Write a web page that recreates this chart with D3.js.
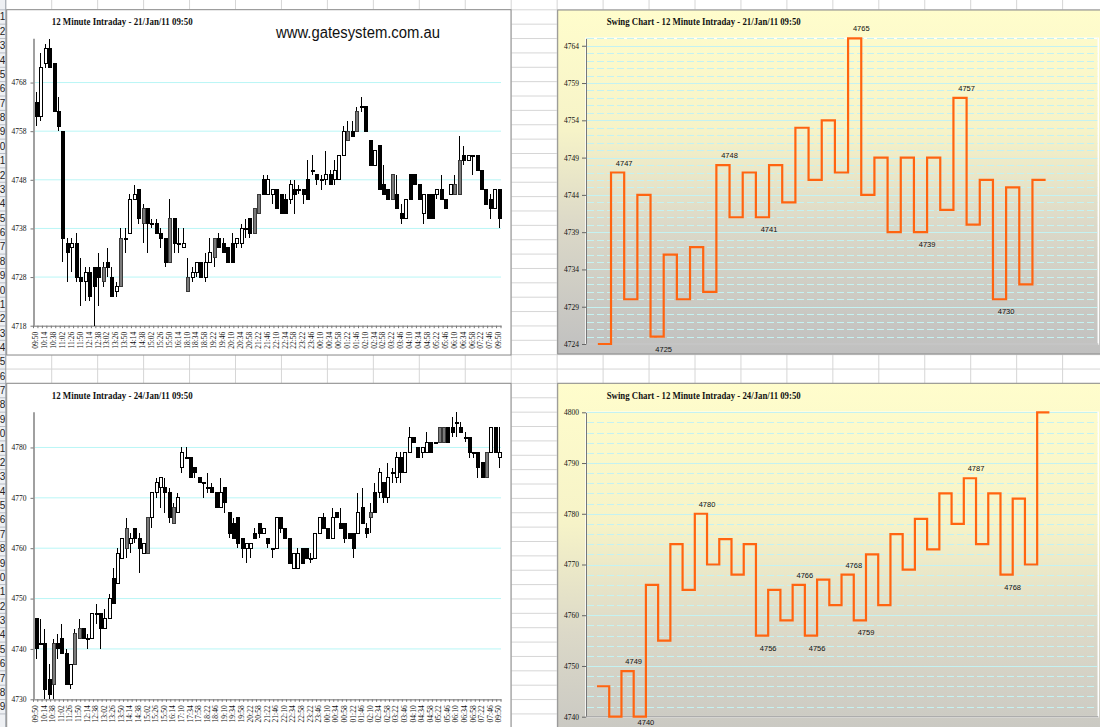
<!DOCTYPE html>
<html><head><meta charset="utf-8">
<script src="https://cdn.jsdelivr.net/npm/d3@7"></script>
<style>body{margin:0;background:#fff;overflow:hidden}svg{display:block}</style>
</head><body>
<svg id="c" width="1100" height="727"></svg>
<script>
// ---------------- DATA ----------------
const day1Title = "12 Minute Intraday - 21/Jan/11 09:50";
const day2Title = "12 Minute Intraday - 24/Jan/11 09:50";
const swing1Title = "Swing Chart - 12 Minute Intraday - 21/Jan/11 09:50";
const swing2Title = "Swing Chart - 12 Minute Intraday - 24/Jan/11 09:50";
const siteText = "www.gatesystem.com.au";

const day1Labels = ["09:50","10:14","10:38","11:02","11:26","11:50","12:14","12:38","13:02","13:26","13:50","14:14","14:38","15:02","15:26","15:50","16:14","18:10","18:34","18:58","19:22","19:46","20:10","20:34","20:58","21:22","21:46","22:10","22:34","22:58","23:22","23:46","00:10","00:34","00:58","01:22","01:46","02:10","02:34","02:58","03:22","03:46","04:10","04:34","04:58","05:22","05:46","06:10","06:34","06:58","07:22","07:46","09:50"];
const day2Labels = ["09:50","10:14","10:38","11:02","11:26","11:50","12:14","12:38","13:02","13:26","13:50","14:14","14:38","15:02","15:26","15:50","16:14","17:10","17:34","17:58","18:22","18:46","19:10","19:34","19:58","20:22","20:58","21:22","21:46","22:10","22:34","22:58","23:22","23:46","00:10","00:34","00:58","01:22","01:46","02:10","02:34","02:58","03:22","03:46","04:10","04:34","04:58","05:22","05:46","06:10","06:34","06:58","07:22","07:46","09:50"];

const day1Ticks = [4718,4728,4738,4748,4758,4768];
const day2Ticks = [4730,4740,4750,4760,4770,4780];

// [open, high, low, close, kind]  kind: w = hollow, b = black, g = grey
const day1Candles = [
[4764,4766,4759,4761,"b"],[4761,4774,4760,4771,"w"],[4772,4776,4771,4775,"w"],[4775,4777,4771,4771,"b"],[4772,4772,4762,4762,"b"],
[4762,4765,4758,4759,"b"],[4758,4758,4731,4736,"b"],[4735,4736,4727,4733,"b"],[4734,4736,4729,4735,"w"],[4735,4737,4727,4728,"b"],
[4728,4732,4722,4727,"b"],[4727,4730,4723,4729,"w"],[4729,4730,4723,4724,"b"],[4730,4730,4718,4726,"b"],[4730,4733,4722,4728,"b"],
[4727,4731,4726,4730,"g"],[4731,4734,4728,4730,"b"],[4728,4730,4724,4724,"b"],[4725,4727,4724,4726,"w"],[4726,4738,4726,4736,"g"],
[4736,4738,4733,4736,"w"],[4737,4745,4737,4744,"w"],[4744,4747,4744,4745,"w"],[4746,4746,4739,4740,"b"],[4739,4743,4735,4742,"g"],
[4742,4742,4733,4739,"b"],[4739,4740,4738,4739,"b"],[4739,4740,4737,4737,"b"],[4737,4738,4734,4736,"b"],[4736,4736,4730,4731,"b"],
[4731,4744,4731,4740,"g"],[4740,4740,4733,4735,"b"],[4735,4738,4733,4735,"b"],[4734,4738,4734,4735,"w"],[4725,4732,4725,4728,"g"],
[4728,4730,4727,4729,"w"],[4729,4731,4728,4731,"w"],[4731,4731,4728,4728,"b"],[4728,4733,4727,4731,"w"],[4731,4736,4731,4733,"w"],
[4732,4736,4730,4736,"g"],[4736,4737,4734,4734,"b"],[4735,4736,4733,4733,"b"],[4734,4734,4731,4731,"b"],[4735,4737,4731,4731,"b"],
[4735,4736,4734,4736,"w"],[4735,4739,4734,4738,"w"],[4738,4740,4736,4738,"b"],[4740,4740,4736,4737,"b"],[4737,4742,4737,4742,"g"],
[4741,4745,4741,4745,"g"],[4748,4749,4745,4745,"b"],[4745,4749,4745,4748,"w"],[4745,4746,4743,4746,"w"],[4746,4746,4742,4742,"b"],
[4745,4745,4741,4741,"b"],[4744,4745,4741,4741,"b"],[4744,4748,4743,4747,"w"],[4746,4748,4741,4745,"b"],[4746,4747,4745,4746,"b"],
[4746,4746,4743,4745,"b"],[4748,4752,4744,4744,"b"],[4750,4753,4749,4750,"b"],[4749,4749,4747,4748,"b"],[4748,4749,4746,4748,"b"],
[4748,4754,4747,4749,"w"],[4749,4750,4747,4747,"b"],[4748,4752,4747,4750,"w"],[4748,4753,4748,4753,"w"],[4753,4759,4753,4758,"w"],
[4756,4760,4756,4758,"g"],[4758,4760,4757,4757,"b"],[4758,4763,4758,4762,"g"],[4763,4765,4762,4763,"b"],[4763,4763,4758,4758,"b"],
[4756,4756,4751,4751,"b"],[4751,4754,4751,4754,"w"],[4755,4755,4746,4746,"b"],[4747,4751,4745,4745,"b"],[4746,4746,4744,4744,"b"],
[4744,4749,4744,4749,"g"],[4745,4749,4742,4742,"b"],[4741,4743,4739,4740,"b"],[4740,4744,4740,4744,"w"],[4749,4749,4744,4744,"b"],
[4749,4749,4747,4747,"b"],[4747,4747,4744,4744,"b"],[4741,4745,4739,4745,"w"],[4745,4745,4740,4740,"b"],[4745,4745,4740,4740,"b"],
[4745,4746,4744,4746,"w"],[4746,4749,4744,4744,"b"],[4744,4744,4742,4742,"b"],[4745,4747,4745,4747,"w"],[4745,4749,4745,4747,"g"],
[4745,4757,4745,4752,"g"],[4753,4755,4751,4752,"b"],[4752,4753,4752,4753,"w"],[4753,4753,4749,4753,"b"],[4753,4753,4750,4750,"b"],
[4750,4750,4746,4746,"b"],[4746,4746,4743,4743,"b"],[4744,4745,4740,4742,"b"],[4742,4746,4742,4746,"w"],[4746,4746,4738,4740,"b"]
];

const day2Candles = [
[4746,4746,4738,4740,"b"],[4741,4746,4741,4741,"w"],[4741,4744,4730,4732,"b"],[4734,4737,4730,4731,"b"],[4733,4742,4730,4741,"g"],
[4741,4743,4738,4740,"b"],[4742,4745,4739,4739,"b"],[4739,4740,4733,4733,"b"],[4733,4737,4732,4737,"w"],[4737,4744,4737,4743,"g"],
[4742,4746,4742,4744,"g"],[4744,4744,4742,4742,"b"],[4742,4743,4740,4742,"b"],[4742,4747,4742,4747,"w"],[4747,4749,4745,4747,"b"],
[4747,4747,4740,4744,"b"],[4744,4748,4744,4746,"w"],[4746,4751,4746,4750,"w"],[4754,4756,4749,4749,"b"],[4753,4760,4753,4759,"w"],
[4758,4762,4758,4762,"w"],[4760,4766,4758,4764,"g"],[4761,4763,4759,4762,"w"],[4764,4764,4761,4762,"b"],[4762,4763,4755,4760,"b"],
[4759,4761,4759,4761,"w"],[4759,4766,4759,4766,"g"],[4766,4771,4764,4771,"w"],[4771,4774,4770,4773,"w"],[4772,4774,4768,4774,"w"],
[4772,4774,4767,4771,"b"],[4771,4772,4765,4766,"b"],[4765,4769,4765,4768,"g"],[4767,4771,4767,4770,"w"],[4776,4780,4775,4779,"w"],
[4778,4780,4778,4778,"b"],[4778,4778,4774,4774,"b"],[4776,4776,4774,4775,"b"],[4774,4774,4773,4773,"b"],[4773,4773,4770,4773,"b"],
[4772,4775,4771,4772,"b"],[4772,4773,4771,4771,"b"],[4771,4771,4768,4768,"b"],[4768,4774,4768,4771,"w"],[4772,4772,4767,4769,"b"],
[4767,4767,4762,4763,"b"],[4765,4766,4762,4762,"b"],[4766,4766,4760,4761,"b"],[4762,4762,4758,4760,"b"],[4760,4761,4757,4761,"w"],
[4760,4761,4758,4761,"w"],[4763,4764,4762,4762,"b"],[4765,4765,4762,4763,"b"],[4763,4764,4763,4764,"w"],[4762,4762,4760,4761,"b"],
[4760,4760,4758,4760,"b"],[4760,4766,4760,4766,"w"],[4766,4766,4763,4764,"b"],[4764,4764,4762,4762,"b"],[4762,4762,4757,4757,"b"],
[4756,4759,4756,4759,"w"],[4756,4760,4756,4759,"w"],[4760,4760,4757,4757,"b"],[4760,4760,4758,4758,"b"],[4758,4759,4757,4758,"b"],
[4758,4763,4758,4763,"w"],[4763,4766,4763,4766,"w"],[4766,4767,4764,4764,"b"],[4764,4764,4762,4762,"b"],[4762,4768,4762,4766,"w"],
[4767,4767,4766,4766,"b"],[4765,4768,4764,4764,"b"],[4765,4765,4761,4762,"b"],[4763,4763,4762,4762,"b"],[4763,4763,4758,4760,"b"],
[4763,4771,4763,4767,"w"],[4768,4772,4765,4765,"b"],[4764,4765,4762,4763,"b"],[4766,4769,4763,4767,"g"],[4771,4773,4767,4767,"b"],
[4771,4776,4770,4775,"w"],[4773,4773,4769,4770,"b"],[4770,4777,4769,4774,"w"],[4775,4776,4773,4775,"b"],[4774,4779,4773,4778,"w"],
[4778,4779,4773,4775,"b"],[4775,4779,4775,4779,"w"],[4779,4784,4779,4782,"w"],[4782,4782,4781,4781,"b"],[4780,4780,4778,4778,"b"],
[4779,4780,4778,4780,"w"],[4779,4783,4779,4781,"w"],[4781,4781,4779,4779,"b"],[4781,4781,4781,4781,"b"],[4781,4784,4781,4784,"g"],
[4781,4784,4781,4784,"g"],[4784,4784,4781,4781,"b"],[4784,4786,4782,4783,"b"],[4785,4787,4782,4785,"b"],[4784,4785,4783,4783,"b"],
[4782,4783,4781,4782,"b"],[4782,4782,4778,4779,"b"],[4779,4779,4778,4779,"b"],[4779,4779,4774,4776,"b"],[4777,4777,4774,4774,"b"],
[4774,4779,4774,4779,"g"],[4779,4784,4779,4784,"w"],[4784,4784,4779,4779,"b"],[4778,4784,4776,4779,"w"]
];

const swing1Values = [4724,4747,4730,4744,4725,4736,4730,4737,4731,4748,4741,4747,4741,4748,4743,4753,4746,4754,4747,4765,4744,4749,4739,4749,4739,4749,4742,4757,4740,4746,4730,4745,4732,4746];
const swing1Labelled = [1,4,9,12,19,24,27,30];
const swing1Ticks = [4724,4729,4734,4739,4744,4749,4754,4759,4764];

const swing2Values = [4746,4740,4749,4740,4766,4755,4774,4765,4780,4770,4775,4768,4774,4756,4765,4759,4766,4756,4767,4762,4768,4759,4772,4762,4776,4769,4779,4773,4784,4778,4787,4774,4784,4768,4783,4770,4800];
const swing2Labelled = [2,3,8,13,16,17,20,21,30,33];
const swing2Ticks = [4740,4750,4760,4770,4780,4790,4800];

// ---------------- DRAW ----------------
const svg = d3.select("#c");
const W = 1100, H = 727;

// spreadsheet background
const sheet = svg.append("g");
sheet.append("rect").attr("width", W).attr("height", H).attr("fill", "#fff");
const rowH = 14.37, row0 = 9.8, colW = 45.95, col0 = 5.75;
const rowIdx = d3.range(0, Math.floor((H - row0) / rowH));
sheet.selectAll("line.row").data(d3.range(0, Math.ceil((H - row0) / rowH))).join("line")
  .attr("x1", 0).attr("x2", W).attr("y1", k => row0 + k * rowH).attr("y2", k => row0 + k * rowH)
  .attr("stroke", "#d6d6d6").attr("stroke-width", 1);
sheet.selectAll("line.col").data(d3.range(0, 25)).join("line")
  .attr("x1", k => col0 + k * colW).attr("x2", k => col0 + k * colW).attr("y1", 0).attr("y2", H)
  .attr("stroke", "#d6d6d6").attr("stroke-width", 1);
sheet.append("rect").attr("x", 0).attr("y", 0).attr("width", col0).attr("height", H).attr("fill", "#eef0f3");
sheet.selectAll("line.hrow").data(d3.range(0, Math.ceil((H - row0) / rowH))).join("line")
  .attr("x1", 0).attr("x2", col0).attr("y1", k => row0 + k * rowH).attr("y2", k => row0 + k * rowH)
  .attr("stroke", "#b8bcc4");
sheet.selectAll("text.rn").data(rowIdx).join("text")
  .attr("x", 5.2).attr("y", k => row0 + (k + 0.5) * rowH + 3.5)
  .attr("text-anchor", "end").attr("font-family", "Liberation Sans").attr("font-size", 10)
  .attr("fill", "#222").text(k => (k + 1) % 10);
sheet.append("line").attr("x1", col0).attr("x2", col0).attr("y1", 0).attr("y2", H).attr("stroke", "#9aa0a8");

// candle panel
function candlePanel(o) {
  const g = svg.append("g");
  g.append("rect").attr("x", o.bx).attr("y", o.by).attr("width", o.bw).attr("height", o.bh)
    .attr("fill", "#fff").attr("stroke", "#8a8a8a").attr("stroke-width", 1);
  g.append("text").attr("x", o.titleX).attr("y", o.titleY).attr("font-family", "Liberation Serif")
    .attr("font-weight", "bold").attr("font-size", 10).attr("textLength", o.titleW)
    .attr("lengthAdjust", "spacingAndGlyphs").attr("fill", "#111").text(o.title);

  const x = d3.scaleBand().domain(d3.range(o.data.length)).range([o.x0, o.x1]);
  const y = d3.scaleLinear().domain(o.yDomain).range([o.yBottom, o.yTop]);

  g.selectAll("line.grid").data(o.ticks.slice(1)).join("line")
    .attr("x1", o.x0).attr("x2", o.x1).attr("y1", d => y(d)).attr("y2", d => y(d))
    .attr("stroke", "#b9f6f6").attr("stroke-width", 1);

  const ya = g.append("g").attr("transform", `translate(${o.x0},0)`)
    .call(d3.axisLeft(y).tickValues(o.ticks).tickSize(3).tickSizeOuter(0).tickFormat(d3.format("d")));
  ya.select(".domain").attr("stroke", "#a0a0a0").attr("stroke-width", 2);
  ya.selectAll(".tick line").attr("stroke", "#777");
  ya.selectAll(".tick text").attr("font-family", "Liberation Serif").attr("font-size", 7.5)
    .attr("fill", "#111").attr("x", -7);

  const xa = g.append("g").attr("transform", `translate(0,${o.yBottom})`)
    .call(d3.axisBottom(x).tickValues(d3.range(0, o.data.length, 2)).tickSize(0).tickSizeOuter(0)
      .tickFormat(i => o.labels[i / 2]));
  xa.select(".domain").attr("stroke", "#a0a0a0").attr("stroke-width", 1.5);
  xa.selectAll(".tick text").attr("transform", "rotate(-90)").attr("x", -6).attr("y", 0)
    .attr("dy", "0.33em").style("text-anchor", "end")
    .attr("font-family", "Liberation Serif").attr("font-size", 7.5).attr("fill", "#111");
  g.selectAll("line.xt").data(d3.range(o.data.length + 1)).join("line")
    .attr("x1", i => o.x0 + i * x.step()).attr("x2", i => o.x0 + i * x.step())
    .attr("y1", o.yBottom).attr("y2", o.yBottom + 2.5).attr("stroke", "#777");

  const cx = i => x(i) + x.bandwidth() / 2;
  const cg = g.append("g").attr("shape-rendering", "crispEdges");
  cg.selectAll("line.wick").data(o.data).join("line")
    .attr("x1", (d, i) => Math.round(cx(i)) + 0.5).attr("x2", (d, i) => Math.round(cx(i)) + 0.5)
    .attr("y1", d => y(d[1])).attr("y2", d => y(d[2])).attr("stroke", "#000");
  const bw = 3;
  cg.selectAll("rect.body").data(o.data).join("rect")
    .attr("x", (d, i) => Math.round(cx(i)) - 1)
    .attr("y", d => y(Math.max(d[0], d[3])))
    .attr("width", bw)
    .attr("height", d => Math.max(1, Math.abs(y(d[0]) - y(d[3]))))
    .attr("fill", d => d[4] === "w" ? "#fff" : d[4] === "b" ? "#000" : "#7a7a7a")
    .attr("stroke", d => d[4] === "g" ? "#3a3a3a" : "#000").attr("stroke-width", 1);
  return g;
}

candlePanel({
  bx: 6.7, by: 9.7, bw: 504.3, bh: 345.3,
  title: day1Title, titleX: 51.7, titleY: 25, titleW: 141,
  data: day1Candles, labels: day1Labels, ticks: day1Ticks,
  x0: 33.5, x1: 501, yBottom: 325.7, yTop: 38.3, yDomain: [4718, 4777.1]
});
svg.append("text").attr("x", 276).attr("y", 37.5).attr("font-family", "Liberation Sans")
  .attr("font-size", 16).attr("textLength", 164).attr("lengthAdjust", "spacingAndGlyphs")
  .attr("fill", "#111").text(siteText);

candlePanel({
  bx: 6.7, by: 383.3, bw: 504.3, bh: 400,
  title: day2Title, titleX: 51.7, titleY: 398.5, titleW: 141,
  data: day2Candles, labels: day2Labels, ticks: day2Ticks,
  x0: 33.5, x1: 501, yBottom: 699.3, yTop: 411.7, yDomain: [4730, 4787.1]
});

// swing panels
const defs = svg.append("defs");
const grad = defs.append("linearGradient").attr("id", "sg").attr("x1", 0).attr("x2", 0).attr("y1", 0).attr("y2", 1);
[[0, "#fffdcc"], [0.35, "#f6f3c8"], [0.62, "#dcd9c8"], [1, "#c0c0c0"]].forEach(s =>
  grad.append("stop").attr("offset", s[0]).attr("stop-color", s[1]));

function swingPanel(o) {
  const g = svg.append("g");
  g.append("rect").attr("x", o.bx).attr("y", o.by).attr("width", o.bw).attr("height", o.bh)
    .attr("fill", "url(#sg)").attr("stroke", "#8a8a8a");
  g.append("text").attr("x", o.titleX).attr("y", o.titleY).attr("font-family", "Liberation Serif")
    .attr("font-weight", "bold").attr("font-size", 10).attr("textLength", o.titleW)
    .attr("lengthAdjust", "spacingAndGlyphs").attr("fill", "#111").text(o.title);

  const n = o.values.length;
  const x = d3.scaleLinear().domain([-0.9, n + 4]).range([o.x0, o.x1]);
  const y = d3.scaleLinear().domain(o.yDomain).range([o.yBottom, o.yTop]);

  g.append("rect").attr("x", o.x0).attr("y", o.yTop).attr("width", o.x1 - o.x0).attr("height", o.yBottom - o.yTop)
    .attr("fill", "none").attr("stroke", "#fff").attr("stroke-width", 1.5);

  const minor = d3.range(o.yDomain[0], o.yDomain[1] + 0.001, o.minorStep).filter(v => !o.ticks.includes(v));
  g.selectAll("line.mg").data(minor).join("line")
    .attr("x1", o.x0 + 1).attr("x2", o.x1 - 1).attr("y1", d => Math.round(y(d)) + 0.5).attr("y2", d => Math.round(y(d)) + 0.5)
    .attr("stroke", "#c4f2f2").attr("stroke-dasharray", "7,3");
  g.selectAll("line.Mg").data(o.ticks.filter(v => v !== o.yDomain[0])).join("line")
    .attr("x1", o.x0 + 1).attr("x2", o.x1 - 1).attr("y1", d => Math.round(y(d)) + 0.5).attr("y2", d => Math.round(y(d)) + 0.5)
    .attr("stroke", "#c4f2f2");

  const ya = g.append("g").attr("transform", `translate(${o.x0},0)`)
    .call(d3.axisLeft(y).tickValues(o.ticks).tickSize(4).tickSizeOuter(0).tickFormat(d3.format("d")));
  ya.select(".domain").attr("stroke", "#777").attr("stroke-width", 1);
  ya.selectAll(".tick line").attr("stroke", "#666");
  ya.selectAll(".tick text").attr("font-family", "Liberation Serif").attr("font-size", 7.5)
    .attr("fill", "#111").attr("x", -7);
  g.append("line").attr("x1", o.x0).attr("x2", o.x1).attr("y1", o.yBottom).attr("y2", o.yBottom)
    .attr("stroke", "#9a9a9a");

  const pts = o.values.map((v, i) => [i, v]);
  pts.push([n, o.values[n - 1]]);
  g.append("path").datum(pts)
    .attr("d", d3.line().x(d => x(d[0])).y(d => y(d[1])).curve(d3.curveStepAfter))
    .attr("fill", "none").attr("stroke", "#ff6410").attr("stroke-width", 2.2);

  g.selectAll("text.sl").data(o.labelled).join("text")
    .attr("x", k => x(k + 1)).attr("text-anchor", "middle")
    .attr("y", k => {
      const peak = k === 0 ? o.values[k] > o.values[k + 1] : o.values[k] > o.values[k - 1];
      return peak ? y(o.values[k]) - 7 : Math.min(y(o.values[k]) + 15, o.labelMaxY);
    })
    .attr("font-family", "Liberation Sans").attr("font-size", 7.5).attr("fill", "#111")
    .text(k => o.values[k]);
}

swingPanel({
  bx: 557.7, by: 10, bw: 560, bh: 344,
  title: swing1Title, titleX: 606.7, titleY: 25, titleW: 194,
  values: swing1Values, labelled: swing1Labelled, ticks: swing1Ticks, minorStep: 1,
  x0: 586, x1: 1098.3, yBottom: 344, yTop: 38.3, yDomain: [4724, 4765], labelMaxY: 352
});
swingPanel({
  bx: 557.7, by: 383.3, bw: 560, bh: 400,
  title: swing2Title, titleX: 606.7, titleY: 398.5, titleW: 194,
  values: swing2Values, labelled: swing2Labelled, ticks: swing2Ticks, minorStep: 2,
  x0: 586, x1: 1098.3, yBottom: 716.7, yTop: 412.3, yDomain: [4740, 4800], labelMaxY: 724.5
});
</script>
</body></html>
